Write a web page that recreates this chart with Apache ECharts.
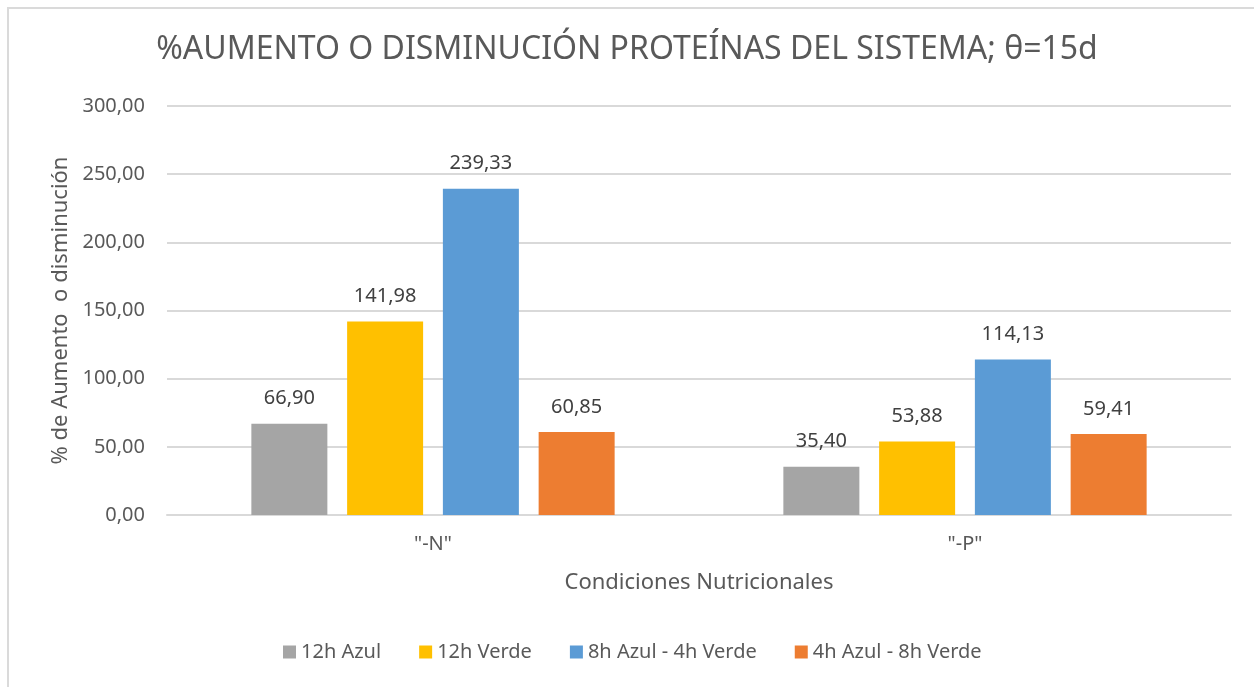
<!DOCTYPE html>
<html>
<head>
<meta charset="utf-8">
<title>%Aumento o disminución proteínas</title>
<script src="https://cdn.jsdelivr.net/npm/echarts@6/dist/echarts.min.js"></script>
<style>
  html, body { margin: 0; padding: 0; background: #fff; }
  #chart { width: 1254px; height: 687px; }
  /* thin frame Excel leaves on the left and top */
  #frame { position: absolute; left: 7px; top: 7px; width: 1260px; height: 700px;
           border-left: 2px solid #dadada; border-top: 2px solid #dadada; pointer-events: none; }
</style>
</head>
<body>
<div id="chart"></div>
<div id="frame"></div>
<script>
const categories = ['"-N"', '"-P"']
const seriesNames = ['12h Azul', '12h Verde', '8h Azul - 4h Verde', '4h Azul - 8h Verde']
const azul12 = [66.90, 35.40]
const verde12 = [141.98, 53.88]
const azul8verde4 = [239.33, 114.13]
const azul4verde8 = [60.85, 59.41]
const colors = ['#A5A5A5', '#FFC000', '#5B9BD5', '#ED7D31']

const fmt = v => v.toFixed(2).replace('.', ',')
const font = 'Noto Sans'
const textColor = '#595959'

const makeBar = (name, values, color) => ({
  name: name,
  type: 'bar',
  data: values,
  barWidth: 76,
  barGap: '26%',
  itemStyle: { color: color },
  label: {
    show: true,
    position: 'top',
    distance: 15,
    fontFamily: font,
    fontSize: 20,
    color: '#404040',
    formatter: p => fmt(p.value)
  }
})

const option = {
  animation: false,
  title: {
    text: '%AUMENTO O DISMINUCIÓN PROTEÍNAS DEL SISTEMA; θ=15d',
    left: 'center',
    top: 29,
    textStyle: { fontFamily: font, fontSize: 32, fontWeight: 'normal', color: textColor }
  },
  legend: {
    bottom: 20,
    left: 278,
    itemWidth: 13,
    itemHeight: 13,
    itemGap: 38,
    icon: 'rect',
    textStyle: { fontFamily: font, fontSize: 20, color: textColor }
  },
  grid: { left: 167, right: 23, top: 106, bottom: 172 },
  xAxis: {
    type: 'category',
    data: categories,
    name: 'Condiciones Nutricionales',
    nameLocation: 'middle',
    nameGap: 57,
    nameTextStyle: { fontFamily: font, fontSize: 22, color: textColor },
    axisLine: { lineStyle: { color: '#d9d9d9', width: 2 } },
    axisTick: { show: false },
    axisLabel: { margin: 19, fontFamily: font, fontSize: 20, color: textColor }
  },
  yAxis: {
    type: 'value',
    min: 0,
    max: 300,
    interval: 50,
    name: '% de Aumento  o disminución',
    nameLocation: 'middle',
    nameGap: 95,
    nameTextStyle: { fontFamily: font, fontSize: 22, color: textColor },
    axisLabel: { margin: 22, fontFamily: font, fontSize: 20, color: textColor, formatter: v => fmt(v) },
    splitLine: { lineStyle: { color: '#d9d9d9', width: 2 } }
  },
  series: [
    makeBar(seriesNames[0], azul12, colors[0]),
    makeBar(seriesNames[1], verde12, colors[1]),
    makeBar(seriesNames[2], azul8verde4, colors[2]),
    makeBar(seriesNames[3], azul4verde8, colors[3])
  ]
}

const chart = echarts.init(document.getElementById('chart'))
chart.setOption(option)
</script>
</body>
</html>
